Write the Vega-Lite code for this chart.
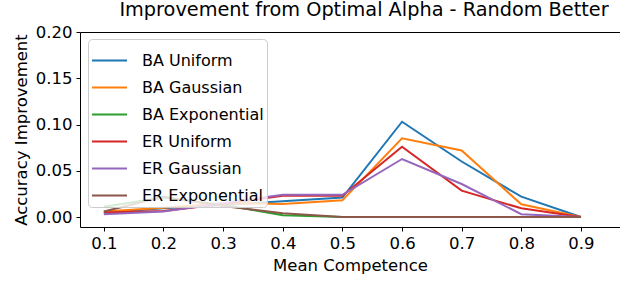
{
  "$schema": "https://vega.github.io/schema/vega-lite/v6.json",
  "autosize": "none",
  "width": 540,
  "height": 195,
  "padding": {"left": 80, "top": 32, "right": 0, "bottom": 57},
  "background": "white",
  "view": {"stroke": "black", "strokeWidth": 1},
  "config": {"font": "DejaVu Sans"},
  "title": {"text": "Improvement from Optimal Alpha - Random Better", "fontSize": 19.3, "fontWeight": "normal", "color": "black", "anchor": "middle", "dx": 14, "offset": 4, "font": "DejaVu Sans"},
  "data": {"values": [
    {"s": "BA Uniform", "x": 0.1, "y": 0.0047}, {"s": "BA Uniform", "x": 0.2, "y": 0.0094}, {"s": "BA Uniform", "x": 0.3, "y": 0.013}, {"s": "BA Uniform", "x": 0.4, "y": 0.017}, {"s": "BA Uniform", "x": 0.5, "y": 0.021}, {"s": "BA Uniform", "x": 0.6, "y": 0.103}, {"s": "BA Uniform", "x": 0.7, "y": 0.060}, {"s": "BA Uniform", "x": 0.8, "y": 0.022}, {"s": "BA Uniform", "x": 0.9, "y": 0.0},
    {"s": "BA Gaussian", "x": 0.1, "y": 0.006}, {"s": "BA Gaussian", "x": 0.2, "y": 0.010}, {"s": "BA Gaussian", "x": 0.3, "y": 0.015}, {"s": "BA Gaussian", "x": 0.4, "y": 0.014}, {"s": "BA Gaussian", "x": 0.5, "y": 0.018}, {"s": "BA Gaussian", "x": 0.6, "y": 0.085}, {"s": "BA Gaussian", "x": 0.7, "y": 0.072}, {"s": "BA Gaussian", "x": 0.8, "y": 0.0137}, {"s": "BA Gaussian", "x": 0.9, "y": 0.0},
    {"s": "BA Exponential", "x": 0.1, "y": 0.011}, {"s": "BA Exponential", "x": 0.2, "y": 0.021}, {"s": "BA Exponential", "x": 0.3, "y": 0.013}, {"s": "BA Exponential", "x": 0.4, "y": 0.002}, {"s": "BA Exponential", "x": 0.5, "y": 0.0}, {"s": "BA Exponential", "x": 0.6, "y": 0.0}, {"s": "BA Exponential", "x": 0.7, "y": 0.0}, {"s": "BA Exponential", "x": 0.8, "y": 0.0}, {"s": "BA Exponential", "x": 0.9, "y": 0.0},
    {"s": "ER Uniform", "x": 0.1, "y": 0.005}, {"s": "ER Uniform", "x": 0.2, "y": 0.0065}, {"s": "ER Uniform", "x": 0.3, "y": 0.014}, {"s": "ER Uniform", "x": 0.4, "y": 0.023}, {"s": "ER Uniform", "x": 0.5, "y": 0.023}, {"s": "ER Uniform", "x": 0.6, "y": 0.076}, {"s": "ER Uniform", "x": 0.7, "y": 0.0285}, {"s": "ER Uniform", "x": 0.8, "y": 0.0094}, {"s": "ER Uniform", "x": 0.9, "y": 0.0},
    {"s": "ER Gaussian", "x": 0.1, "y": 0.003}, {"s": "ER Gaussian", "x": 0.2, "y": 0.006}, {"s": "ER Gaussian", "x": 0.3, "y": 0.015}, {"s": "ER Gaussian", "x": 0.4, "y": 0.024}, {"s": "ER Gaussian", "x": 0.5, "y": 0.024}, {"s": "ER Gaussian", "x": 0.6, "y": 0.0627}, {"s": "ER Gaussian", "x": 0.7, "y": 0.0357}, {"s": "ER Gaussian", "x": 0.8, "y": 0.003}, {"s": "ER Gaussian", "x": 0.9, "y": 0.0},
    {"s": "ER Exponential", "x": 0.1, "y": 0.006}, {"s": "ER Exponential", "x": 0.2, "y": 0.022}, {"s": "ER Exponential", "x": 0.3, "y": 0.012}, {"s": "ER Exponential", "x": 0.4, "y": 0.004}, {"s": "ER Exponential", "x": 0.5, "y": 0.0}, {"s": "ER Exponential", "x": 0.6, "y": 0.0}, {"s": "ER Exponential", "x": 0.7, "y": 0.0}, {"s": "ER Exponential", "x": 0.8, "y": 0.0}, {"s": "ER Exponential", "x": 0.9, "y": 0.0}
  ]},
  "mark": {"type": "line", "strokeWidth": 2, "clip": true},
  "encoding": {
    "x": {"field": "x", "type": "quantitative",
      "scale": {"domain": [0.06, 0.9655], "nice": false, "zero": false},
      "axis": {"title": "Mean Competence", "values": [0.1, 0.2, 0.3, 0.4, 0.5, 0.6, 0.7, 0.8, 0.9], "format": ".1f", "grid": false,
        "domain": false, "tickColor": "black", "tickSize": 4, "labelFontSize": 16.5, "labelColor": "black", "labelPadding": 4,
        "titleFontSize": 16.5, "titleFontWeight": "normal", "titleColor": "black", "titlePadding": 6, "labelFont": "DejaVu Sans", "titleFont": "DejaVu Sans"}},
    "y": {"field": "y", "type": "quantitative",
      "scale": {"domain": [-0.0108, 0.2], "nice": false, "zero": false},
      "axis": {"title": "Accuracy Improvement", "values": [0, 0.05, 0.1, 0.15, 0.2], "format": ".2f", "grid": false,
        "domain": false, "tickColor": "black", "tickSize": 4, "labelFontSize": 16.5, "labelColor": "black", "labelPadding": 4,
        "titleFontSize": 16.5, "titleFontWeight": "normal", "titleColor": "black", "titlePadding": 6, "labelFont": "DejaVu Sans", "titleFont": "DejaVu Sans"}},
    "color": {"field": "s", "type": "nominal",
      "sort": ["BA Uniform", "BA Gaussian", "BA Exponential", "ER Uniform", "ER Gaussian", "ER Exponential"],
      "scale": {"domain": ["BA Uniform", "BA Gaussian", "BA Exponential", "ER Uniform", "ER Gaussian", "ER Exponential"],
        "range": ["#1f77b4", "#ff7f0e", "#2ca02c", "#d62728", "#9467bd", "#8c564b"]},
      "legend": {"title": null, "orient": "none", "legendX": 8, "legendY": 7, "symbolType": "stroke", "symbolStrokeWidth": 2, "symbolSize": 1225,
        "labelFontSize": 16, "labelColor": "black", "labelFont": "DejaVu Sans", "rowPadding": -1.3, "labelOffset": 14,
        "fillColor": "rgba(255,255,255,0.8)", "strokeColor": "#cccccc", "cornerRadius": 4, "padding": 3}}
  }
}
